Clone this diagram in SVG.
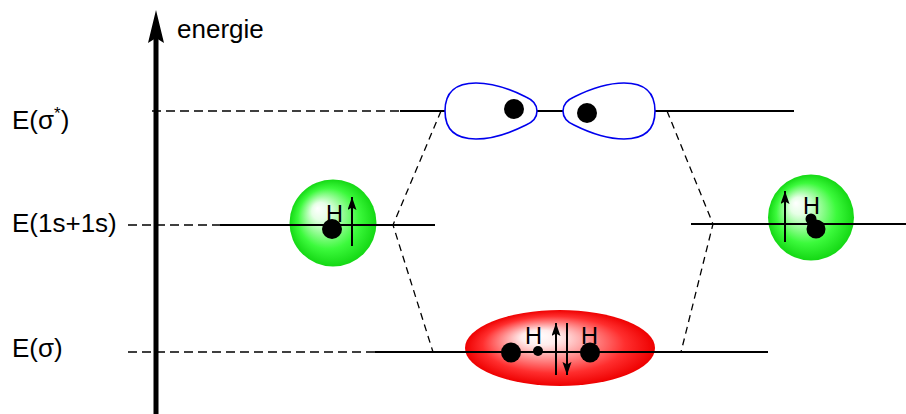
<svg xmlns="http://www.w3.org/2000/svg" width="906" height="414" viewBox="0 0 906 414">
  <style>
    text { font-family: "Liberation Sans", Arial, Helvetica, sans-serif; fill: #000; }
    .label { font-size: 26px; }
    .atom { font-size: 23.5px; }
    .level { stroke: #000; stroke-width: 2; fill: none; }
    .guide { stroke: #000; stroke-width: 1.3; stroke-dasharray: 9 5; fill: none; }
    .link { stroke: #000; stroke-width: 1.3; stroke-dasharray: 7 5; fill: none; }
    .lobe { fill: #fff; stroke: #0000ee; stroke-width: 1.6; }
    .nucleus { fill: #000; }
    .spin { stroke: #000; stroke-width: 2; fill: none; marker-end: url(#spinHead); }
  </style>
  <defs>
    <radialGradient id="gGreen" cx="0.5" cy="0.5" r="0.5" fx="0.32" fy="0.33">
      <stop offset="0" stop-color="#ffffff"/>
      <stop offset="0.2" stop-color="#e6ffe6"/>
      <stop offset="0.7" stop-color="#3cfa3c"/>
      <stop offset="1" stop-color="#14d814"/>
    </radialGradient>
    <radialGradient id="gRed" cx="0.5" cy="0.5" r="0.5" fx="0.37" fy="0.33">
      <stop offset="0" stop-color="#ffffff"/>
      <stop offset="0.2" stop-color="#ffecec"/>
      <stop offset="0.75" stop-color="#ff2e2e"/>
      <stop offset="1" stop-color="#ee0000"/>
    </radialGradient>
    <marker id="spinHead" markerUnits="userSpaceOnUse" markerWidth="15" markerHeight="10" refX="13" refY="4.5" orient="auto">
      <path d="M0,0 L13,4.5 L0,9 L2.5,4.5 Z" fill="#000"/>
    </marker>
    <path id="lobeShape" d="M537,111 C537,104 533,100 526,97 C510,89 492,83 476,83 C452,83 445,95 445,111 C445,127 452,139 476,139 C492,139 510,133 526,125 C533,122 537,118 537,111 Z"/>
  </defs>

  <!-- energy axis -->
  <g id="axis">
    <line x1="156" y1="414" x2="156" y2="36" stroke="#000" stroke-width="5"/>
    <path d="M156,10 L164,43 L156,38 L148,43 Z" fill="#000"/>
    <text class="label" x="177" y="38">energie</text>
  </g>

  <!-- energy labels -->
  <g id="labels">
    <text class="label" x="12" y="129">E(σ<tspan font-size="17" dy="-10">*</tspan><tspan dy="10">)</tspan></text>
    <text class="label" x="12" y="232">E(1s+1s)</text>
    <text class="label" x="12" y="357">E(σ)</text>
  </g>

  <!-- atomic spheres and molecular orbitals (drawn under the level lines) -->
  <g id="h-left-sphere">
    <circle cx="333" cy="223" r="43.5" fill="url(#gGreen)"/>
  </g>
  <g id="h-right-sphere">
    <circle cx="811" cy="217.5" r="43" fill="url(#gGreen)"/>
  </g>
  <g id="sigma-cloud">
    <ellipse cx="560" cy="348" rx="95" ry="38" fill="url(#gRed)"/>
  </g>

  <!-- level lines and connectors -->
  <g id="connectors">
    <line class="guide" x1="152" y1="111" x2="402" y2="111"/>
    <line class="guide" x1="128" y1="225" x2="222" y2="225"/>
    <line class="guide" x1="128" y1="352" x2="377" y2="352"/>
    <line class="level" x1="400" y1="111" x2="794" y2="111"/>
    <line class="level" x1="220" y1="225" x2="435" y2="225"/>
    <line class="level" x1="691" y1="224" x2="906" y2="224"/>
    <line class="level" x1="375" y1="352" x2="768" y2="352"/>
    <polyline class="link" points="441,111 393,225 433,352"/>
    <polyline class="link" points="667,111 713,224 681,352"/>
  </g>

  <!-- antibonding orbital sigma* -->
  <g id="sigma-star">
    <use href="#lobeShape" class="lobe"/>
    <use href="#lobeShape" class="lobe" transform="translate(1100,0) scale(-1,1)"/>
    <circle class="nucleus" cx="514" cy="109" r="10"/>
    <circle class="nucleus" cx="587" cy="113" r="10"/>
  </g>

  <!-- left hydrogen atom -->
  <g id="h-left">
    <text class="atom" x="326" y="222">H</text>
    <circle class="nucleus" cx="332" cy="229" r="10"/>
    <line class="spin" x1="352" y1="246" x2="352" y2="197"/>
  </g>

  <!-- right hydrogen atom -->
  <g id="h-right">
    <text class="atom" x="803" y="213.5">H</text>
    <circle class="nucleus" cx="811" cy="219" r="5.5"/>
    <circle class="nucleus" cx="816" cy="229" r="9.5"/>
    <line class="spin" x1="785" y1="242" x2="785" y2="191"/>
  </g>

  <!-- bonding orbital sigma -->
  <g id="sigma">
    <text class="atom" x="525" y="344">H</text>
    <text class="atom" x="581" y="344">H</text>
    <circle class="nucleus" cx="511" cy="352.5" r="10"/>
    <circle class="nucleus" cx="538" cy="351" r="5"/>
    <circle class="nucleus" cx="590" cy="352.5" r="10"/>
    <line class="spin" x1="556" y1="375" x2="556" y2="323"/>
    <line class="spin" x1="567" y1="323" x2="567" y2="375"/>
  </g>
</svg>
